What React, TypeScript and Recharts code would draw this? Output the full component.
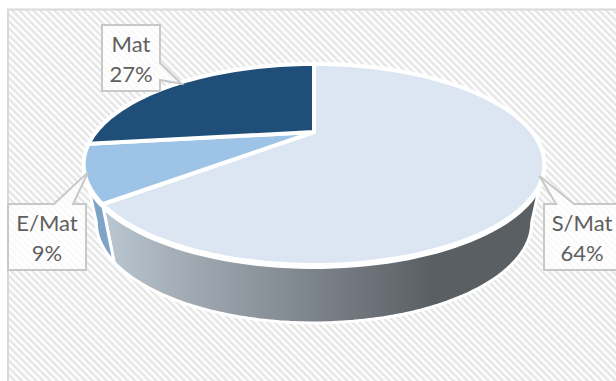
import React from 'react';
import { PieChart, Pie } from 'recharts';

const categories = ['S/Mat', 'E/Mat', 'Mat'];
const shares = [64, 9, 27];
const topColors = ['#dce6f2', '#9dc3e6', '#1f4e79'];
const wallColors = ['url(#wallShade)', '#7fa3c7', '#1f4e79'];

const slices = categories.map((name, i) => ({ name, value: shares[i], fill: topColors[i] }));
const walls = categories.map((name, i) => ({ name, value: shares[i], fill: wallColors[i] }));

const WIDTH = 616;
const HEIGHT = 381;

// perspective tilt of the disc: the far rim is squeezed, the near rim is stretched
const TILT = 0.323;
const TOP_X = 2.18;
const TOP_Y = 0.9;
const FLOOR_X = 2.06;
const DEPTH = 58;

const project = (cx: number, cy: number, r: number, angle: number, sx = TOP_X, drop = 0) => {
  const rad = (angle * Math.PI) / 180;
  const u = Math.cos(rad);
  const v = Math.sin(rad);
  const d = 1 + TILT * v;
  return [cx + (r * sx * u) / d, cy + drop - (r * TOP_Y * v) / d];
};

const rim = (cx: number, cy: number, r: number, from: number, to: number, sx = TOP_X, drop = 0) => {
  const steps = Math.max(2, Math.ceil(Math.abs(to - from) / 2));
  const pts: number[][] = [];
  for (let i = 0; i <= steps; i++) {
    pts.push(project(cx, cy, r, from + ((to - from) * i) / steps, sx, drop));
  }
  return pts;
};

const toLine = (pts: number[][]) =>
  pts.map((p, i) => `${i ? 'L' : 'M'}${p[0].toFixed(2)} ${p[1].toFixed(2)}`).join(' ');

const TopSlice = (props: any) => {
  const { cx, cy, outerRadius, startAngle, endAngle, fill } = props;
  const pts = [[cx, cy], ...rim(cx, cy, outerRadius, startAngle, endAngle)];
  return <path d={`${toLine(pts)} Z`} fill={fill} stroke="#fff" strokeWidth={4} strokeLinejoin="miter" />;
};

// only the part of the rim between the two silhouette points faces the viewer
const FRONT_START = -18.8;
const FRONT_END = -161.2;

const WallSlice = (props: any) => {
  const { cx, cy, outerRadius, startAngle, endAngle, fill } = props;
  const from = Math.min(startAngle, FRONT_START);
  const to = Math.max(endAngle, FRONT_END);
  if (from <= to) return <g />;
  const upper = rim(cx, cy, outerRadius, from, to);
  const lower = rim(cx, cy, outerRadius, to, from, FLOOR_X, DEPTH);
  // white lip under the top face, thicker towards the front
  const lip = rim(cx, cy, outerRadius, from, to, TOP_X, 2);
  return (
    <g>
      <path d={`${toLine([...upper, ...lower])} Z`} fill={fill} stroke="#fff" strokeWidth={3} />
      <path d={toLine(lip)} fill="none" stroke="#fff" strokeWidth={4} />
    </g>
  );
};

const boxes: Record<string, any> = {
  'S/Mat': { x: 544, y: 204, w: 76, h: 66, tail: ['top', 556, 574] },
  'E/Mat': { x: 8, y: 204, w: 78, h: 66, tail: ['top', 54, 73] },
  Mat: { x: 102, y: 25, w: 58, h: 66, tail: ['right', 63, 80] },
};

const Callout = (props: any) => {
  const { cx, cy, outerRadius, midAngle, name, percent } = props;
  const b = boxes[name];
  const tip = project(cx, cy, outerRadius * 0.985, midAngle);
  const right = b.x + b.w;
  const bottom = b.y + b.h;
  const [side, t1, t2] = b.tail;
  const outline =
    side === 'top'
      ? `M${b.x} ${b.y} L${t1} ${b.y} L${tip[0]} ${tip[1]} L${t2} ${b.y} L${right} ${b.y} L${right} ${bottom} L${b.x} ${bottom} Z`
      : `M${b.x} ${b.y} L${right} ${b.y} L${right} ${t1} L${tip[0]} ${tip[1]} L${right} ${t2} L${right} ${bottom} L${b.x} ${bottom} Z`;
  const mid = b.x + b.w / 2;
  return (
    <g fontFamily="Lato" fontSize={22} fill="#5f5f5f" textAnchor="middle">
      <path d={outline} fill="#fff" fillOpacity={0.75} stroke="#c8c8c8" strokeWidth={2} />
      <text x={mid} y={b.y + 27}>{name}</text>
      <text x={mid} y={b.y + 56.5}>{`${Math.round(percent * 100)}%`}</text>
    </g>
  );
};

export default function App() {
  return (
    <div style={{ position: 'fixed', left: 0, top: 0, width: WIDTH, height: HEIGHT, background: '#fff' }}>
      <PieChart width={WIDTH} height={HEIGHT} margin={{ top: 0, right: 0, bottom: 0, left: 0 }}>
        <defs>
          <pattern id="hatch" width="5" height="5" patternUnits="userSpaceOnUse" patternTransform="rotate(-45)">
            <rect width="5" height="5" fill="#fff" />
            <rect width="2.5" height="5" fill="#e6e6e6" />
          </pattern>
          <linearGradient id="wallShade" gradientUnits="userSpaceOnUse" x1="107" y1="0" x2="490" y2="0">
            <stop offset="0" stopColor="#b8c6d0" />
            <stop offset="0.2" stopColor="#a3abb4" />
            <stop offset="0.55" stopColor="#7b828a" />
            <stop offset="0.85" stopColor="#5a5f63" />
            <stop offset="1" stopColor="#5a5f63" />
          </linearGradient>
        </defs>
        <rect x={8} y={9.5} width={WIDTH} height={HEIGHT} fill="url(#hatch)" stroke="#d9d9d9" strokeWidth={2} />
        <Pie
          data={walls}
          dataKey="value"
          nameKey="name"
          cx={314}
          cy={132}
          outerRadius={100}
          startAngle={90}
          endAngle={-270}
          stroke="none"
          shape={WallSlice}
          isAnimationActive={false}
        />
        <Pie
          data={slices}
          dataKey="value"
          nameKey="name"
          cx={314}
          cy={132}
          outerRadius={100}
          startAngle={90}
          endAngle={-270}
          shape={TopSlice}
          label={Callout}
          labelLine={false}
          isAnimationActive={false}
        />
      </PieChart>
    </div>
  );
}
